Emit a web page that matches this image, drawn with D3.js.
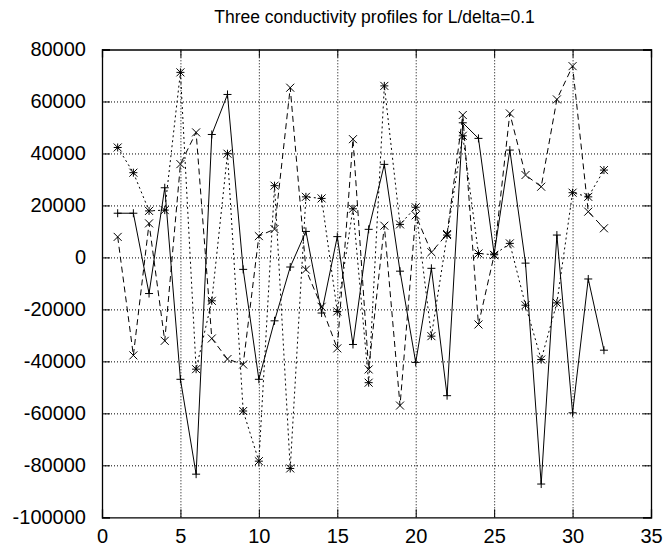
<!DOCTYPE html>
<html>
<head>
<meta charset="utf-8">
<script src="https://cdn.jsdelivr.net/npm/d3@7"></script>
<style>
  body { margin: 0; background: #fff; }
  text { font-family: "Liberation Sans", Arial, sans-serif; fill: #000; }
</style>
</head>
<body>
<div class="chart"></div>
<script>
var w = 667,
    h = 552;

var title = "Three conductivity profiles for L/delta=0.1";
var xTicks = [0, 5, 10, 15, 20, 25, 30, 35];
var yTicks = [-100000, -80000, -60000, -40000, -20000, 0, 20000, 40000, 60000, 80000];
var idx = [1, 2, 3, 4, 5, 6, 7, 8, 9, 10, 11, 12, 13, 14, 15, 16,
           17, 18, 19, 20, 21, 22, 23, 24, 25, 26, 27, 28, 29, 30, 31, 32];

// solid line, "+" points
var profile1 = [17000, 17000, -13900, 26800, -46900, -83400, 47300, 62700, -4600, -46900, -24400, -3700,
                10000, -21400, 8000, -33500, 10800, 35800, -5300, -40400, -4200, -53200, 51800, 45800,
                1300, 41300, -2200, -87200, 8600, -59800, -8300, -35700];
// dashed line, "x" points
var profile2 = [7900, -37700, 13100, -32100, 35900, 48100, -31200, -39100, -41200, 8200, 10900, 65300,
                -4700, -19000, -35000, 45500, -43100, 12200, -57000, 16200, 2000, 9000, 54800, -25800,
                900, 55400, 31700, 27200, 60800, 73600, 17600, 11200];
// dotted line, "*" points
var profile3 = [42300, 32600, 17900, 18200, 71200, -43000, -16700, 39900, -59100, -78400, 27600, -81200,
                23300, 22700, -20800, 18700, -48200, 66000, 12700, 19300, -30300, 8600, 46800, 1500,
                1000, 5400, -18400, -39300, -17500, 24900, 23300, 33600];

var padL = 102, padR = 651, padT = 49.5, padB = 517.3;

var x = d3.scaleLinear().domain([0, 35]).range([padL, padR]);
var y = d3.scaleLinear().domain([-100000, 80000]).range([padB, padT]);

var svg = d3.select(".chart").append("svg")
    .attr("width", w)
    .attr("height", h);

// grid
svg.append("g").attr("class", "grid")
    .attr("transform", "translate(0," + padB + ")")
    .call(d3.axisBottom(x).tickValues(xTicks.slice(1, -1)).tickSize(-(padB - padT)).tickFormat(""))
    .call(function(g) { g.select(".domain").remove(); });
svg.append("g").attr("class", "grid")
    .attr("transform", "translate(" + padL + ",0)")
    .call(d3.axisLeft(y).tickValues(yTicks.slice(1, -1)).tickSize(-(padR - padL)).tickFormat(""))
    .call(function(g) { g.select(".domain").remove(); });
svg.selectAll(".grid line")
    .attr("stroke", "#000")
    .attr("stroke-width", 1)
    .attr("stroke-dasharray", "1,2");

// axes, ticks pointing inwards and mirrored
var tl = 8;
var plain = function(d) { return String(d); };
var xb = svg.append("g")
    .attr("transform", "translate(0," + padB + ")")
    .call(d3.axisBottom(x).tickValues(xTicks).tickSize(-tl).tickPadding(tl + 4).tickFormat(plain));
svg.append("g")
    .attr("transform", "translate(0," + padT + ")")
    .call(d3.axisTop(x).tickValues(xTicks).tickSize(-tl).tickFormat(""));
var yl = svg.append("g")
    .attr("transform", "translate(" + padL + ",0)")
    .call(d3.axisLeft(y).tickValues(yTicks).tickSize(-tl).tickPadding(tl + 8).tickFormat(plain));
svg.append("g")
    .attr("transform", "translate(" + padR + ",0)")
    .call(d3.axisRight(y).tickValues(yTicks).tickSize(-tl).tickFormat(""));

svg.selectAll(".domain").attr("stroke", "#000").attr("stroke-width", 1.3);
svg.selectAll(".tick line").attr("stroke", "#000");
xb.selectAll("text").style("font-size", "20px").style("font-family", "Liberation Sans, Arial, sans-serif");
yl.selectAll("text").style("font-size", "20px").style("font-family", "Liberation Sans, Arial, sans-serif");

svg.append("text")
    .attr("x", (padL + padR) / 2 - 2)
    .attr("y", 23)
    .attr("text-anchor", "middle")
    .style("font-size", "17.5px")
    .text(title);

// series
var series = [
  { values: profile1, dash: null, mark: "plus" },
  { values: profile2, dash: "6,4", mark: "cross" },
  { values: profile3, dash: "2,3", mark: "star" }
];

var line = d3.line()
    .x(function(d) { return x(d[0]); })
    .y(function(d) { return y(d[1]); });

var ms = 4;
var marks = {
  plus: function(p) { return "M" + (p[0] - ms) + "," + p[1] + "h" + 2 * ms + "M" + p[0] + "," + (p[1] - ms) + "v" + 2 * ms; },
  cross: function(p) { return "M" + (p[0] - ms) + "," + (p[1] - ms) + "l" + 2 * ms + "," + 2 * ms + "M" + (p[0] - ms) + "," + (p[1] + ms) + "l" + 2 * ms + "," + (-2 * ms); },
  star: function(p) { return marks.plus(p) + marks.cross(p); }
};

series.forEach(function(s) {
  var pts = idx.map(function(i, k) { return [i, s.values[k]]; });
  svg.append("path")
      .attr("d", line(pts))
      .attr("fill", "none")
      .attr("stroke", "#000")
      .attr("stroke-width", 1)
      .attr("stroke-dasharray", s.dash);
  svg.append("g").selectAll("path").data(pts).enter().append("path")
      .attr("d", function(d) { return marks[s.mark]([x(d[0]), y(d[1])]); })
      .attr("fill", "none")
      .attr("stroke", "#000")
      .attr("stroke-width", 1);
});
</script>
</body>
</html>
